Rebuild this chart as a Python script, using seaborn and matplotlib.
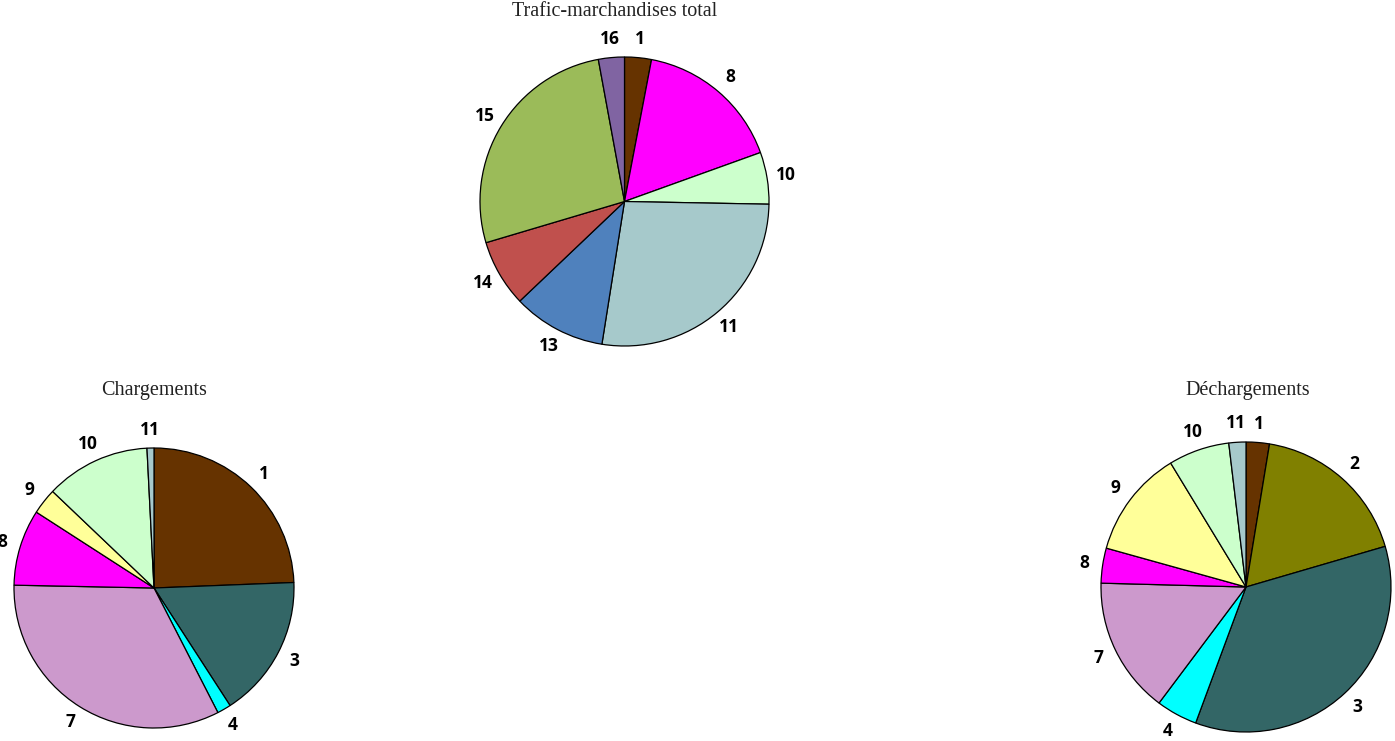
import matplotlib
matplotlib.use("Agg")
import matplotlib.pyplot as plt
import seaborn as sns
import pandas as pd

# ---
# Données (parts en %)
total_labels = ["1", "8", "10", "11", "13", "14", "15", "16"]
total_values = [3.0, 16.5, 5.8, 27.2, 10.4, 7.5, 26.7, 2.9]

charg_labels = ["1", "3", "4", "7", "8", "9", "10", "11"]
charg_values = [24.4, 16.5, 1.6, 32.9, 8.8, 3.0, 12.1, 0.8]

decharg_labels = ["1", "2", "3", "4", "7", "8", "9", "10", "11"]
decharg_values = [2.6, 17.9, 35.2, 4.6, 15.2, 3.9, 12.0, 6.8, 1.9]

# couleurs par code marchandise
colors = {
    "1": "#663300", "2": "#808000", "3": "#336666", "4": "#00FFFF",
    "7": "#CC99CC", "8": "#FF00FF", "9": "#FFFF99", "10": "#CCFFCC",
    "11": "#A6C9CB", "13": "#4F81BD", "14": "#C0504D", "15": "#9BBB59",
    "16": "#8064A2",
}

sns.set_theme(style="white")

W, H = 1395, 741
fig = plt.figure(figsize=(W / 100, H / 100), dpi=100)


def pie_box(x0, y0, size):
    # boîte en pixels (coin haut-gauche) -> coordonnées figure
    return [x0 / W, (H - y0 - size) / H, size / W, size / H]


def draw_pie(rect, labels, values):
    df = pd.DataFrame({"code": labels, "share": values})
    ax = fig.add_axes(rect)
    wedges, texts = ax.pie(
        df["share"], labels=df["code"],
        colors=[colors[c] for c in df["code"]],
        startangle=90, counterclock=False, labeldistance=1.13,
        wedgeprops=dict(edgecolor="black", linewidth=0.9),
        textprops=dict(fontsize=12.5, fontweight="bold", family="Open Sans", color="black"),
    )
    for t in texts:
        t.set_horizontalalignment("center")
        t.set_verticalalignment("center")
        t.set_clip_on(False)
    ax.set_xlim(-1, 1)
    ax.set_ylim(-1, 1)
    ax.set_aspect("equal")
    ax.axis("off")
    return ax


draw_pie(pie_box(480, 57, 289), total_labels, total_values)
draw_pie(pie_box(14, 448, 280), charg_labels, charg_values)
draw_pie(pie_box(1101, 442, 290), decharg_labels, decharg_values)

title_kw = dict(fontsize=14.5, family="Liberation Serif", ha="center", va="center", color="#222222")
fig.text(615 / W, 1 - 12 / H, "Trafic-marchandises total", **title_kw)
fig.text(154.5 / W, 1 - 391 / H, "Chargements", **title_kw)
fig.text(1247.5 / W, 1 - 390 / H, "Déchargements", **title_kw)

fig.savefig("out.png", dpi=100, facecolor="white")
